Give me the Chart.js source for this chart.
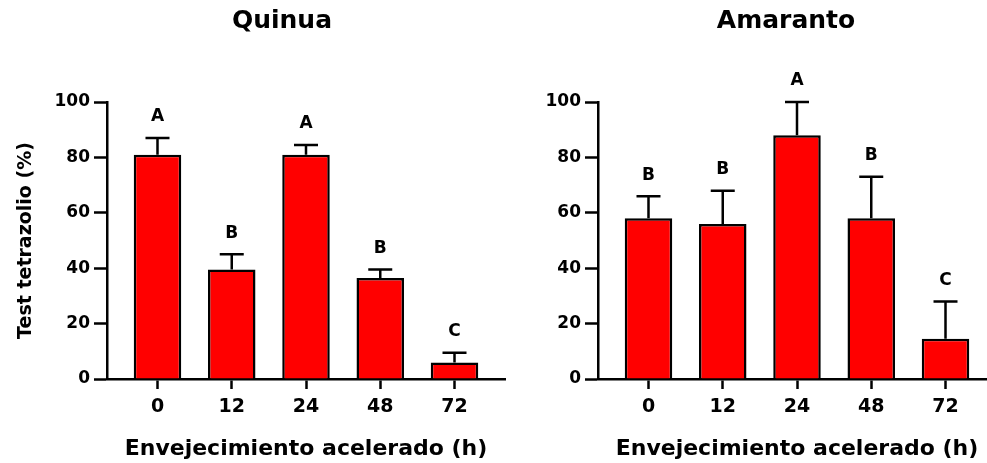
<!DOCTYPE html>
<html>
<head>
<meta charset="utf-8">
<script src="https://cdn.jsdelivr.net/npm/chart.js@4.4.1/dist/chart.umd.min.js"></script>
<style>
  html, body { margin: 0; padding: 0; background: #fff; overflow: hidden; }
  body { width: 987px; height: 463px; position: relative; }
  canvas { position: absolute; top: 0; }
  #quinua { left: 0; }
  #amaranto { left: 540px; }
</style>
</head>
<body>
<canvas id="quinua" width="564" height="463"></canvas>
<canvas id="amaranto" width="492" height="463"></canvas>
<script>
const hours = ['0', '12', '24', '48', '72'];
const yTicks = [0, 20, 40, 60, 80, 100];

const quinuaMean = [81, 39.5, 81, 36.5, 6];
const quinuaSd = [6, 5.5, 3.5, 3, 3.5];
const quinuaLetters = ['A', 'B', 'A', 'B', 'C'];

const amarantoMean = [58, 56, 88, 58, 14.5];
const amarantoSd = [8, 12, 12, 15, 13.5];
const amarantoLetters = ['B', 'B', 'A', 'B', 'C'];

const FONT = '"DejaVu Sans", sans-serif';
const INK = '#000';

// upper error bar + letter over each bar
function errorBarPlugin(mean, sd, letters) {
  return {
    id: 'errorBars',
    afterDatasetsDraw(chart) {
      const ctx = chart.ctx;
      const y = chart.scales.y;
      const bars = chart.getDatasetMeta(0).data;
      ctx.save();
      ctx.strokeStyle = INK;
      ctx.fillStyle = INK;
      ctx.lineWidth = 2.5;
      ctx.font = 'bold 17px ' + FONT;
      ctx.textAlign = 'center';
      ctx.textBaseline = 'middle';
      bars.forEach((bar, i) => {
        const base = y.getPixelForValue(mean[i]);
        const top = y.getPixelForValue(mean[i] + sd[i]);
        ctx.beginPath();
        ctx.moveTo(bar.x, base);
        ctx.lineTo(bar.x, top);
        ctx.moveTo(bar.x - 12, top);
        ctx.lineTo(bar.x + 12, top);
        ctx.stroke();
        ctx.fillText(letters[i], bar.x, top - 21);
      });
      ctx.restore();
    }
  };
}

function makeChart(id, title, mean, sd, letters, yWidth, rightGap, showYTitle) {
  new Chart(document.getElementById(id), {
    type: 'bar',
    data: {
      datasets: [{
        data: mean.map((v, i) => ({ x: i, y: v })),
        backgroundColor: '#ff0000',
        borderColor: INK,
        borderWidth: 2.5,
        categoryPercentage: 1,
        barPercentage: 0.64
      }]
    },
    options: {
      responsive: false,
      animation: false,
      layout: { padding: 0 },
      plugins: {
        legend: { display: false },
        tooltip: { enabled: false },
        title: {
          display: true,
          text: title,
          color: INK,
          font: { family: FONT, size: 25, weight: 'bold' },
          padding: { top: 6, bottom: 66 }
        }
      },
      scales: {
        x: {
          type: 'linear',
          offset: false,
          min: -0.68,
          max: 4.68,
          afterBuildTicks: s => { s.ticks = hours.map((h, i) => ({ value: i })); },
          afterFit: s => { s.height = 84; },
          ticks: {
            callback: v => hours[v],
            color: INK,
            font: { family: FONT, size: 19, weight: 'bold' },
            padding: 7,
            maxRotation: 0,
            autoSkip: false
          },
          grid: { offset: false, drawOnChartArea: false, drawTicks: true, tickLength: 10, tickWidth: 2.5, tickColor: INK },
          border: { display: true, color: INK, width: 2.5 },
          title: {
            display: true,
            text: 'Envejecimiento acelerado (h)',
            color: INK,
            font: { family: FONT, size: 22, weight: 'bold' },
            padding: { top: 0, bottom: 1 }
          }
        },
        y: {
          min: 0,
          max: 100,
          afterBuildTicks: s => { s.ticks = yTicks.map(v => ({ value: v })); },
          afterFit: s => { s.width = yWidth; },
          ticks: {
            color: INK,
            font: { family: FONT, size: 17, weight: 'bold' },
            padding: 4
          },
          grid: { drawOnChartArea: false, drawTicks: true, tickLength: 13, tickWidth: 2.5, tickColor: INK },
          border: { display: true, color: INK, width: 2.5 },
          title: {
            display: showYTitle,
            text: 'Test tetrazolio (%)',
            color: INK,
            font: { family: FONT, size: 19, weight: 'bold' },
            padding: { top: 15, bottom: 0 }
          }
        },
        // empty right-hand spacer so the title centres over the full canvas
        spacer: {
          position: 'right',
          afterFit: s => { s.width = rightGap; },
          ticks: { display: false },
          grid: { display: false },
          border: { display: false }
        }
      }
    },
    plugins: [errorBarPlugin(mean, sd, letters)]
  });
}

makeChart('quinua', 'Quinua', quinuaMean, quinuaSd, quinuaLetters, 107, 59, true);
makeChart('amaranto', 'Amaranto', amarantoMean, amarantoSd, amarantoLetters, 58, 36, false);
</script>
</body>
</html>
